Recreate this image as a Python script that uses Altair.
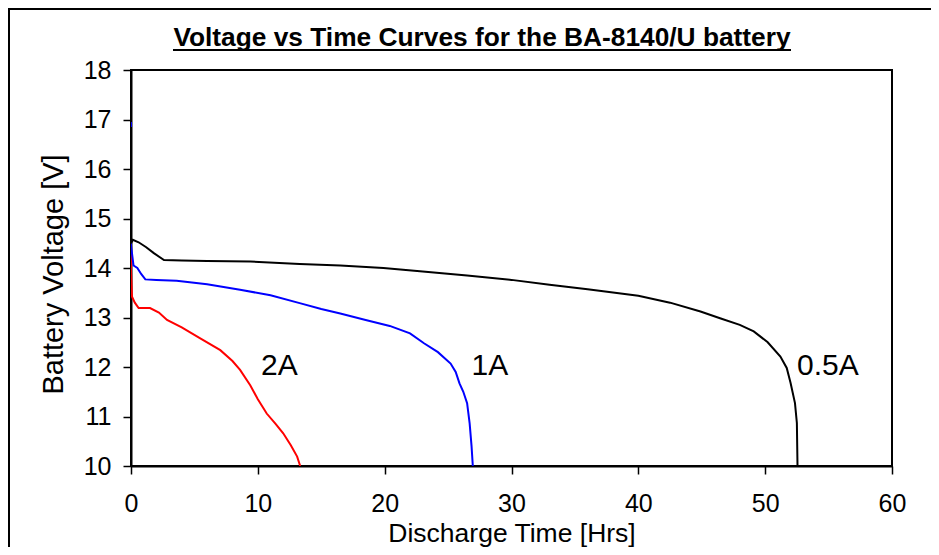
import altair as alt
import pandas as pd

# 0.5A discharge (black)
t_05 = [0, 0, 0.15, 0.6, 1.2, 1.8, 2.6, 4, 6, 9.4, 13.3, 16.5, 19.9, 23, 26.5, 30, 33,
        36, 40, 42.5, 44.9, 46.5, 48, 49.1, 50.2, 51.2, 51.7, 52.0, 52.35, 52.5, 52.55]
v_05 = [16.85, 14.5, 14.57, 14.52, 14.42, 14.3, 14.16, 14.15, 14.14, 14.13, 14.08, 14.05,
        14.0, 13.93, 13.85, 13.76, 13.66, 13.57, 13.44, 13.3, 13.12, 12.98, 12.85, 12.72,
        12.5, 12.21, 11.98, 11.68, 11.27, 10.87, 10.0]

# 1A discharge (blue)
t_1 = [0, 0, 0.2, 0.5, 0.8, 1.13, 2, 3.6, 6, 8.6, 11, 13.3, 15, 16.5, 18.5, 20.4, 22,
       23.1, 24.2, 25.2, 25.6, 25.9, 26.2, 26.5, 26.7, 26.85, 26.95]
v_1 = [16.95, 14.45, 14.05, 14.0, 13.88, 13.77, 13.76, 13.74, 13.67, 13.56, 13.45, 13.29,
       13.17, 13.08, 12.95, 12.83, 12.68, 12.48, 12.3, 12.07, 11.9, 11.67, 11.5, 11.27,
       10.86, 10.4, 10.0]

# 2A discharge (red)
t_2 = [0, 0, 0.08, 0.3, 0.6, 1.5, 2.2, 2.84, 4, 5.46, 7.04, 8.0, 8.6, 9.4, 10.0, 10.7,
       11.4, 12.0, 12.6, 13.1, 13.34]
v_2 = [16.7, 13.95, 13.42, 13.3, 13.19, 13.19, 13.1, 12.95, 12.8, 12.58, 12.34, 12.12,
       11.94, 11.63, 11.35, 11.06, 10.85, 10.66, 10.42, 10.19, 10.0]

label_text = ["2A", "1A", "0.5A"]
label_t = [11.7, 28.3, 54.95]
label_v = [12.02, 12.02, 12.02]

x_ticks = [0, 10, 20, 30, 40, 50, 60]
y_ticks = [10, 11, 12, 13, 14, 15, 16, 17, 18]

TITLE = "Voltage vs Time Curves for the BA-8140/U battery"
FONT = "Liberation Sans"
W, H = 761, 396


def series(t, v):
    return pd.DataFrame({"t": t, "v": v, "i": list(range(len(t)))})


xenc = alt.X(
    "t:Q",
    scale=alt.Scale(domain=[0, 60], nice=False, zero=False),
    axis=alt.Axis(
        values=x_ticks, title="Discharge Time [Hrs]", grid=False,
        tickSize=8, tickWidth=1.5, tickColor="black",
        domainColor="black", domainWidth=2,
        labelFont=FONT, labelFontSize=25, labelColor="black",
        labelBaseline="alphabetic", labelPadding=37, labelFlush=False,
        titleFont=FONT, titleFontSize=26.5, titleFontWeight="normal", titleColor="black",
        titleBaseline="alphabetic", titleY=75,
    ),
)
yenc = alt.Y(
    "v:Q",
    scale=alt.Scale(domain=[10, 18], nice=False, zero=False),
    axis=alt.Axis(
        values=y_ticks, title="Battery Voltage [V]", grid=False,
        tickSize=8, tickWidth=1.5, tickColor="black",
        domainColor="black", domainWidth=2,
        labelFont=FONT, labelFontSize=25, labelColor="black",
        labelPadding=12, labelFlush=False,
        titleFont=FONT, titleFontSize=29, titleFontWeight="normal", titleColor="black",
        titleAngle=270, titleAlign="center", titleBaseline="alphabetic",
        titleX=-69, titleY=204,
    ),
)


def line(df, color):
    return alt.Chart(df).mark_line(color=color, strokeWidth=2, clip=True).encode(
        x=xenc, y=yenc, order=alt.Order("i:Q")
    )


lines = [
    line(series(t_2, v_2), "#FF0000"),
    line(series(t_1, v_1), "#0000FF"),
    line(series(t_05, v_05), "#000000"),
]

labels = alt.Chart(
    pd.DataFrame({"t": label_t, "v": label_v, "label": label_text})
).mark_text(font=FONT, fontSize=30, color="black", align="center", baseline="middle").encode(
    x=alt.X("t:Q"), y=alt.Y("v:Q"), text="label:N"
)

title_df = pd.DataFrame({"title": [TITLE]})
title = alt.Chart(title_df).mark_text(
    font=FONT, fontSize=26.3, fontWeight="bold", color="black",
    align="center", baseline="alphabetic",
).encode(x=alt.value(351), y=alt.value(-24), text="title:N")

underline = alt.Chart(title_df).mark_rule(color="black", strokeWidth=2).encode(
    x=alt.value(42), x2=alt.value(660), y=alt.value(-20)
)

frame = alt.Chart(title_df).mark_rect(
    fill="white", fillOpacity=0, stroke="black", strokeWidth=2
).encode(
    x=alt.value(-122), x2=alt.value(W + 120), y=alt.value(-61), y2=alt.value(H + 150)
)

chart = alt.layer(frame, *lines, labels, title, underline).properties(
    width=W,
    height=H,
    autosize=alt.AutoSizeParams(type="none"),
    padding={"left": 123, "top": 62, "right": 39, "bottom": 81},
    background="white",
).configure_view(stroke="black", strokeWidth=2)

chart.save("out.html", embed_options={"renderer": "svg", "actions": False})
